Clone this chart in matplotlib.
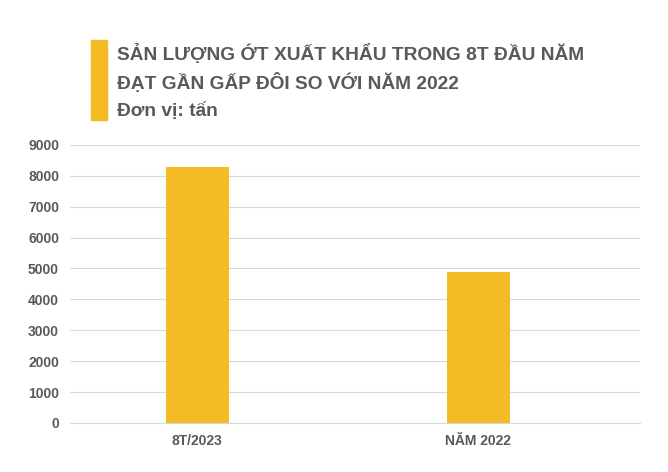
import matplotlib
matplotlib.use("Agg")
import matplotlib.pyplot as plt
from matplotlib.patches import Rectangle

categories = ["8T/2023", "NĂM 2022"]
values = [8300, 4900]
yticks = [0, 1000, 2000, 3000, 4000, 5000, 6000, 7000, 8000, 9000]

plt.rcParams['font.family'] = ['Liberation Sans', 'DejaVu Sans']
fig = plt.figure(figsize=(6.68, 4.72), dpi=100)
ax = fig.add_axes([0.105, 0.104, 0.853, 0.589])
x = list(range(len(categories)))
ax.bar(x, values, width=0.224, color="#F4BB27", zorder=3)
ax.set_xlim(-0.452, 1.576)
ax.set_ylim(0, 9000)
ax.set_yticks(yticks)
ax.set_yticklabels([str(v) for v in yticks], fontsize=10, fontweight='bold', color='#595959')
ax.set_xticks(x)
ax.set_xticklabels(categories, fontsize=10, fontweight='bold', color='#595959')
ax.grid(axis='y', color='#D9D9D9', linewidth=0.8, zorder=0)
for s in ['top', 'right', 'left']:
    ax.spines[s].set_visible(False)
ax.spines['bottom'].set_color('#D9D9D9')
ax.tick_params(length=0, pad=8)

fig.patches.append(Rectangle((0.136, 0.745), 0.024, 0.17, transform=fig.transFigure, color="#F4BB27"))
fig.text(0.175, 0.885, "SẢN LƯỢNG ỚT XUẤT KHẨU TRONG 8T ĐẦU NĂM", fontsize=13.8, fontweight='bold', color='#595959', va='center')
fig.text(0.175, 0.825, "ĐẠT GẦN GẤP ĐÔI SO VỚI NĂM 2022", fontsize=13.8, fontweight='bold', color='#595959', va='center')
fig.text(0.175, 0.765, "Đơn vị: tấn", fontsize=13.8, fontweight='bold', color='#595959', va='center')
fig.savefig("out.png", dpi=100)
